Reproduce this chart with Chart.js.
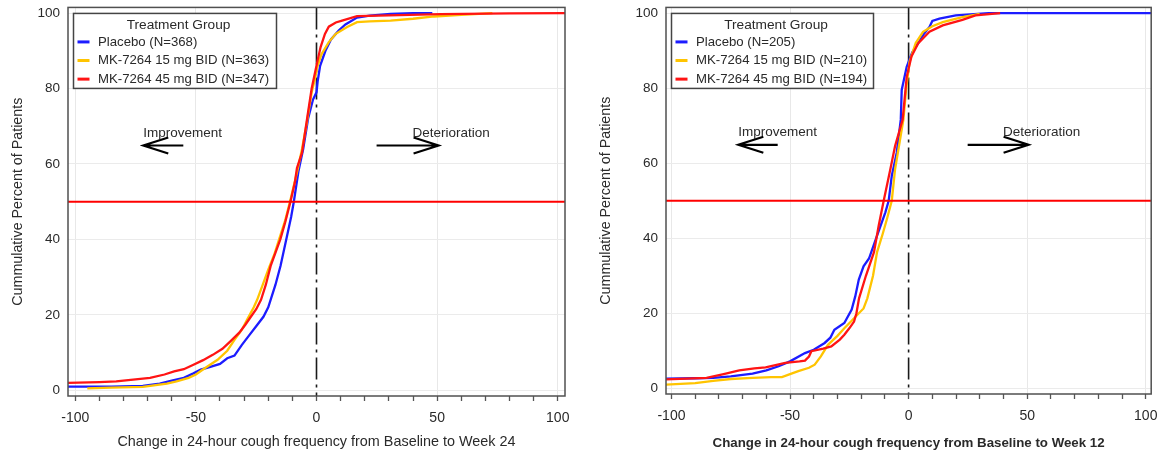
<!DOCTYPE html>
<html>
<head>
<meta charset="utf-8">
<script src="https://cdn.jsdelivr.net/npm/chart.js@4.4.1/dist/chart.umd.min.js"></script>
<style>
  html, body { margin: 0; padding: 0; background: #fff; }
  #wrap { position: relative; width: 1166px; height: 453px; }
  .panel { position: absolute; top: 0; width: 583px; height: 453px; }
  #p1 { left: 0; }
  #p2 { left: 583px; }
</style>
</head>
<body>
<div id="wrap">
  <div class="panel" id="p1"><canvas id="c1"></canvas></div>
  <div class="panel" id="p2"><canvas id="c2"></canvas></div>
</div>
<script>
// Cumulative distribution of change in 24-hour cough frequency (%), by treatment group.

// ---- Week 24 ----
const week24Groups = ['Placebo (N=368)', 'MK-7264 15 mg BID (N=363)', 'MK-7264 45 mg BID (N=347)'];

const week24PlaceboChange = [-103, -85, -72, -65, -60, -55, -51, -48, -44, -40, -37, -34, -31, -28, -25, -22, -20, -17, -14.9, -12.2, -10.5, -9.4, -7.5, -5.5, -3.5, -1.5, 0, 0.5, 1.5, 3.7, 6, 9.2, 12, 16.8, 22, 30.7, 40, 48];
const week24PlaceboPct    = [1, 1, 1.2, 1.8, 2.6, 3.3, 4.5, 5.5, 6.2, 7, 8.5, 9.2, 12, 14.5, 17, 19.5, 22, 28, 33, 41, 46, 50, 58, 64, 72, 77, 79, 82, 86, 90, 93, 95.4, 97, 98.8, 99.3, 99.8, 100, 100];

const week24Dose15Change = [-95, -85, -72, -62, -58, -53, -50, -46, -41, -37, -34, -31, -28.8, -26, -24.6, -22, -20, -17.5, -15.5, -13, -11, -8, -6, -4, -2, -0.5, 0.3, 2, 5.1, 8, 12.7, 16.8, 22, 30.7, 40, 48.7, 60, 72.9];
const week24Dose15Pct    = [0.5, 0.7, 0.9, 1.8, 2.4, 3.3, 4.2, 6, 8.1, 10.5, 13.4, 16, 18.7, 22, 24, 28.5, 32, 36, 40, 45, 50, 58, 64, 71, 79, 83, 85.7, 89, 92.3, 94.5, 96.3, 97.6, 97.8, 98, 98.5, 99.1, 99.5, 100];

const week24Dose45Change = [-103, -90, -83, -75, -69, -63, -59, -55, -51, -47, -43, -39, -35.7, -32, -29.5, -27, -25, -23, -21, -19, -17, -15, -13, -10.8, -9, -8.1, -6, -3.9, -2, 0.3, 1.7, 3.5, 5.1, 8, 10.6, 16.8, 30, 51.5, 80, 103];
const week24Dose45Pct    = [2, 2.2, 2.4, 2.9, 3.3, 4.2, 5, 5.6, 6.8, 8, 9.4, 11, 13, 15.3, 17.4, 19.7, 21.5, 24, 28, 33, 36.5, 40, 44.5, 50, 55, 58.9, 63, 72, 80, 87, 91, 94.5, 96.4, 97.5, 98, 99.2, 99.4, 99.7, 99.9, 100];

// ---- Week 12 ----
const week12Groups = ['Placebo (N=205)', 'MK-7264 15 mg BID (N=210)', 'MK-7264 45 mg BID (N=194)'];

const week12PlaceboChange = [-102.3, -90, -82.4, -75, -65.8, -60, -54.8, -50, -43.7, -40, -35.4, -33, -31.3, -27.1, -24, -22.5, -21, -19, -16.7, -13.3, -9.8, -8.4, -7.1, -5, -3.3, -2.9, -0.8, 1.5, 4, 6.5, 8.8, 10, 13, 19.9, 33.7, 60, 102.3];
const week12PlaceboPct    = [2.6, 2.7, 2.8, 3.2, 3.9, 4.8, 5.9, 7.2, 9.4, 10.3, 12.1, 13.5, 15.6, 17.4, 21, 24.5, 29, 32.5, 34.6, 40.7, 46.9, 50, 56.6, 62.8, 71.6, 79.5, 85.7, 89.5, 91.9, 94.5, 96.3, 97.9, 98.5, 99.4, 100, 100, 100];

const week12Dose15Change = [-102.3, -90, -82.4, -75, -65.8, -58, -53.4, -50, -46.5, -42, -39.6, -37, -34, -30, -27.1, -24, -21.6, -19, -17.4, -15, -13.3, -11, -9.1, -7.1, -5.7, -3.6, -2.2, -1, 0.4, 3, 6.1, 10, 14.4, 22.7, 30];
const week12Dose15Pct    = [1, 1.4, 2, 2.5, 2.8, 3, 3, 3.8, 4.6, 5.5, 6.3, 8.5, 11.6, 14, 16, 18, 19.6, 21.3, 24, 30, 36.3, 41, 45.2, 50, 58.4, 66.3, 71.6, 80, 87, 92, 95, 96.5, 97.6, 98.9, 99.8];

const week12Dose45Change = [-102.3, -85.2, -78, -71.4, -65, -60.3, -52, -46, -43.7, -42, -41, -36, -32.6, -29, -27.1, -25, -23, -22, -20.9, -18, -14.6, -12.6, -10.5, -7.7, -5.7, -2.5, -0.8, 1.2, 4, 8.8, 14.4, 22.7, 28.2, 38.6];
const week12Dose45Pct    = [2.4, 2.8, 3.8, 4.8, 5.3, 5.6, 6.8, 7.2, 7.4, 8.5, 9.9, 10.6, 11.2, 13, 14.3, 16, 17.8, 20, 24, 30, 36.3, 43.4, 50, 58.4, 64.6, 71.6, 83, 88.4, 91.9, 95, 96.7, 98.2, 99.4, 100];

// Reference values
const NO_CHANGE = 0;
const MEDIAN_PCT = 50;

const groupColors = ['#1c1cff', '#ffc400', '#ff1414'];
const FONT = '"Liberation Sans", Arial, Helvetica, sans-serif';
const TEXT = '#2a2a2a';

function pairs(xs, ys) { return xs.map((v, i) => ({ x: v, y: ys[i] })); }

function drawArrow(ctx, fromX, toX, yy) {
  const d = Math.sign(toX - fromX);
  ctx.beginPath();
  ctx.moveTo(fromX, yy);
  ctx.lineTo(toX, yy);
  ctx.moveTo(toX - d * 25, yy - 8);
  ctx.lineTo(toX, yy);
  ctx.lineTo(toX - d * 25, yy + 8);
  ctx.stroke();
}

function decorPlugin(groups, legendW) {
  return {
    id: 'decor',
    beforeDatasetsDraw(chart) {
      const { ctx, chartArea: a, scales: { x } } = chart;
      const x0 = x.getPixelForValue(NO_CHANGE);
      ctx.save();
      ctx.strokeStyle = '#1a1a1a';
      ctx.lineWidth = 1.6;
      ctx.setLineDash([22, 5, 3, 5]);
      ctx.beginPath();
      ctx.moveTo(x0, a.top);
      ctx.lineTo(x0, a.bottom);
      ctx.stroke();
      ctx.restore();
    },
    afterDatasetsDraw(chart) {
      const { ctx, chartArea: a, scales: { x, y } } = chart;
      ctx.save();

      // 50th percentile line
      const ym = y.getPixelForValue(MEDIAN_PCT);
      ctx.strokeStyle = '#ff0000';
      ctx.lineWidth = 2;
      ctx.beginPath();
      ctx.moveTo(a.left, ym);
      ctx.lineTo(a.right, ym);
      ctx.stroke();

      // direction arrows
      ctx.strokeStyle = '#000';
      ctx.lineWidth = 2.2;
      const ay = y.getPixelForValue(64.9);
      drawArrow(ctx, x.getPixelForValue(-55.2), x.getPixelForValue(-71.8), ay);
      drawArrow(ctx, x.getPixelForValue(24.9), x.getPixelForValue(50.6), ay);
      ctx.fillStyle = TEXT;
      ctx.font = '13.5px ' + FONT;
      ctx.textAlign = 'left';
      ctx.textBaseline = 'middle';
      const ty = y.getPixelForValue(68.2);
      ctx.fillText('Improvement', x.getPixelForValue(-71.8), ty);
      ctx.fillText('Deterioration', x.getPixelForValue(39.8), ty);

      // plot frame
      ctx.strokeStyle = '#505050';
      ctx.lineWidth = 1.5;
      ctx.strokeRect(a.left, a.top, a.width, a.height);

      // legend box
      const lx = a.left + 5.5, ly = a.top + 6, lh = 75;
      ctx.fillStyle = '#fff';
      ctx.fillRect(lx, ly, legendW, lh);
      ctx.strokeStyle = '#444';
      ctx.lineWidth = 1.5;
      ctx.strokeRect(lx, ly, legendW, lh);
      ctx.fillStyle = TEXT;
      ctx.font = '13.7px ' + FONT;
      ctx.textAlign = 'center';
      ctx.fillText('Treatment Group', lx + legendW / 2 + 3.5, ly + 12);
      ctx.font = '13.2px ' + FONT;
      ctx.textAlign = 'left';
      groups.forEach((g, i) => {
        const yy = ly + 28.5 + i * 18.6;
        ctx.strokeStyle = groupColors[i];
        ctx.lineWidth = 3;
        ctx.beginPath();
        ctx.moveTo(lx + 4, yy);
        ctx.lineTo(lx + 16, yy);
        ctx.stroke();
        ctx.fillStyle = TEXT;
        ctx.fillText(g, lx + 24.5, yy);
      });
      ctx.restore();
    }
  };
}

function makePanel(canvasId, cfg) {
  const datasets = cfg.series.map((s, i) => ({
    label: cfg.groups[i],
    data: pairs(s[0], s[1]),
    borderColor: groupColors[i],
    borderWidth: 2.3,
    pointRadius: 0,
    fill: false,
    tension: 0,
    order: 3 - i
  }));
  return new Chart(document.getElementById(canvasId), {
    type: 'line',
    data: { datasets },
    plugins: [decorPlugin(cfg.groups, cfg.legendW)],
    options: {
      responsive: true,
      maintainAspectRatio: false,
      animation: false,
      events: [],
      layout: { padding: { top: 0, right: cfg.padRight, left: 0, bottom: 0 } },
      plugins: { legend: { display: false }, tooltip: { enabled: false } },
      scales: {
        x: {
          type: 'linear',
          min: -cfg.xRange,
          max: cfg.xRange,
          border: { display: false },
          grid: {
            color: c => (c.tick && c.tick.value % 50 === 0 && c.tick.value !== 0) ? '#e8e8e8' : 'rgba(0,0,0,0)',
            tickColor: '#555',
            tickLength: 5,
            tickWidth: 1.3,
            lineWidth: 1
          },
          ticks: {
            stepSize: 10,
            includeBounds: false,
            autoSkip: false,
            maxRotation: 0,
            padding: 8.5,
            color: TEXT,
            font: { family: FONT, size: 14 },
            callback: v => (v % 50 === 0 ? String(v) : '')
          },
          title: {
            display: true,
            text: cfg.xTitle,
            color: TEXT,
            font: cfg.xTitleFont,
            padding: { top: 0, bottom: 2 }
          },
          afterFit: s => { s.height = cfg.xAxisH; }
        },
        y: {
          type: 'linear',
          min: -1.5,
          max: 101.5,
          border: { display: false },
          // invisible tick marks keep the label gap without extra top padding
          grid: { color: '#ebebeb', drawTicks: true, tickLength: 8, tickColor: 'rgba(0,0,0,0)', lineWidth: 1 },
          ticks: {
            stepSize: 20,
            includeBounds: false,
            padding: 0,
            color: TEXT,
            font: { family: FONT, size: 13.5, lineHeight: 1.1 }
          },
          title: {
            display: true,
            text: 'Cummulative Percent of Patients',
            color: TEXT,
            font: { family: FONT, size: 14.3 },
            padding: { top: cfg.yTitlePad, bottom: 0 }
          },
          afterFit: s => { s.width = cfg.yAxisW; }
        }
      }
    }
  });
}

makePanel('c1', {
  groups: week24Groups,
  series: [
    [week24PlaceboChange, week24PlaceboPct],
    [week24Dose15Change, week24Dose15Pct],
    [week24Dose45Change, week24Dose45Pct]
  ],
  xTitle: 'Change in 24-hour cough frequency from Baseline to Week 24',
  xTitleFont: { family: FONT, size: 14.4 },
  xRange: 103,
  yAxisW: 68,
  xAxisH: 57,
  padRight: 18,
  yTitlePad: 9.5,
  legendW: 203
});

makePanel('c2', {
  groups: week12Groups,
  series: [
    [week12PlaceboChange, week12PlaceboPct],
    [week12Dose15Change, week12Dose15Pct],
    [week12Dose45Change, week12Dose45Pct]
  ],
  xTitle: 'Change in 24-hour cough frequency from Baseline to Week 12',
  xTitleFont: { family: FONT, size: 13.3, weight: 'bold' },
  xRange: 102.3,
  yAxisW: 83,
  xAxisH: 59,
  padRight: 7,
  yTitlePad: 14.5,
  legendW: 202
});
</script>
</body>
</html>
